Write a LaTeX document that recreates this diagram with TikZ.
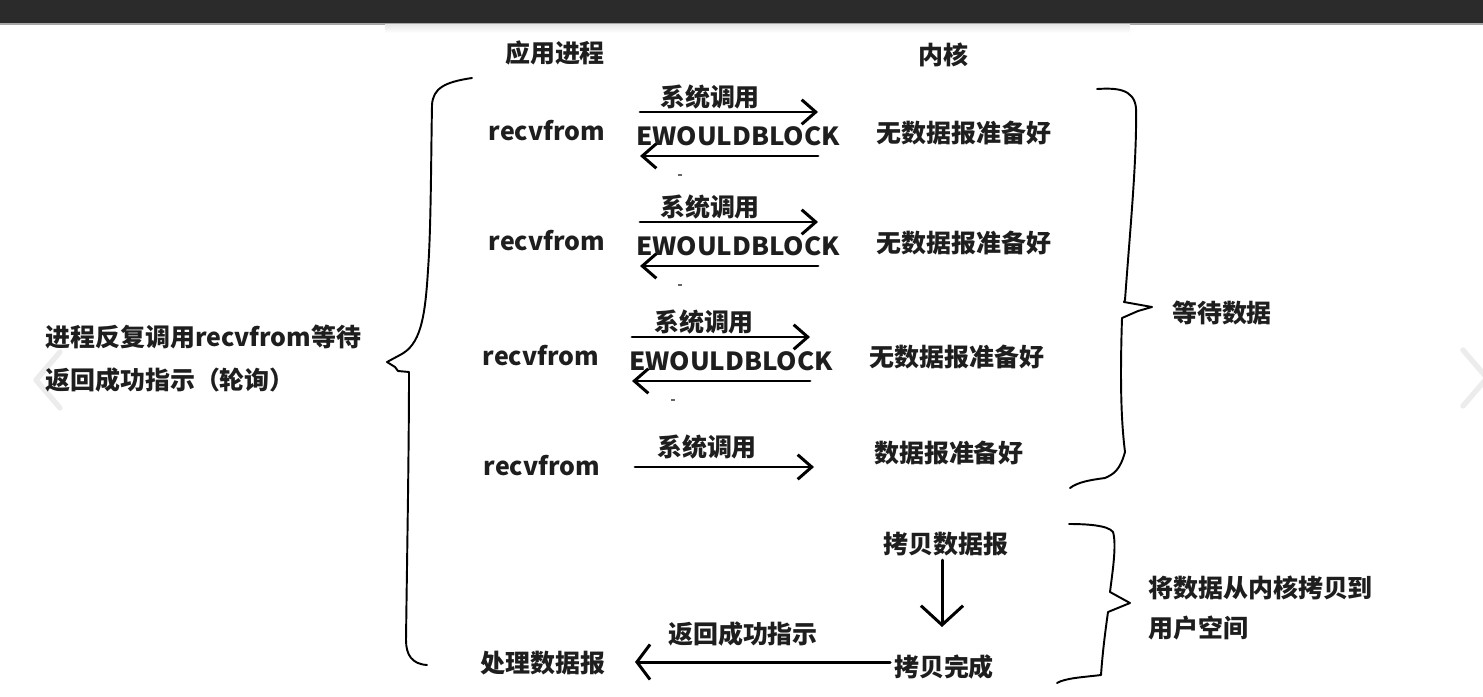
\documentclass[tikz,border=0pt]{standalone}
\usepackage{fontspec}
\setmainfont{Noto Sans CJK SC}
\usetikzlibrary{arrows.meta}
\definecolor{ink}{HTML}{1E1E1E}
\definecolor{topbar}{HTML}{2B2B2B}
\newcommand{\ewb}{\scalebox{1.04}[1]{EWOULDBLOCK}}
\tikzset{
  lbl/.style={font=\fontsize{14.2pt}{17pt}\selectfont\bfseries, text=ink, inner sep=0pt},
  arr/.style={line width=1.7pt, line cap=round, draw=black,
    -{Straight Barb[length=8pt,width=14pt]}},
  arrdown/.style={line width=1.7pt, line cap=round, draw=black,
    -{Straight Barb[length=11pt,width=24pt]}},
  arrback/.style={line width=1.7pt, line cap=round, draw=black,
    -{Straight Barb[length=7.5pt,width=20pt]}},
  brace/.style={line width=1.1pt, line join=round, line cap=round, draw=black},
  tick/.style={line width=1pt, draw=gray!80!black},
  chev/.style={line width=3pt, draw=gray!15, line cap=round, line join=round},
}
\begin{document}
\begin{tikzpicture}[x=0.02cm, y=-0.02cm]
\useasboundingbox (0,0) rectangle (1483,696);
\fill[white] (0,0) rectangle (1483,696);
% browser chrome
\fill[topbar] (0,0) rectangle (1483,24);
\fill[gray!70] (0,23.5) rectangle (1483,25);
\shade[top color=gray!18, bottom color=white] (385,25) rectangle (1130,33);
% carousel chevrons
\draw[chev] (60,352) -- (36,380) -- (60,408);
\draw[chev] (1463,350) -- (1487,378) -- (1463,406);

% headers
\node[lbl] (app) at (555,53) {应用进程};
\node[lbl] (ker) at (943,55) {内核};

% row 1
\node[lbl] (r1) at (547,131) {recvfrom};
\node[lbl] (s1) at (710,97) {系统调用};
\node[lbl] (e1) at (738,136) {\ewb};
\node[lbl] (k1) at (964,133) {无数据报准备好};
\coordinate (a1a) at (640,112); \coordinate (a1b) at (818,112);
\coordinate (b1a) at (818,156); \coordinate (b1b) at (640,156);
\draw[arr] (a1a) -- (a1b);
\draw[arr] (b1a) -- (b1b);
\coordinate (t1a) at (678,175); \coordinate (t1b) at (682,175);
\draw[tick] (t1a) -- (t1b);

% row 2
\node[lbl] (r2) at (547,241) {recvfrom};
\node[lbl] (s2) at (710,207) {系统调用};
\node[lbl] (e2) at (738,246) {\ewb};
\node[lbl] (k2) at (964,243) {无数据报准备好};
\coordinate (a2a) at (640,222); \coordinate (a2b) at (818,222);
\coordinate (b2a) at (818,266); \coordinate (b2b) at (640,266);
\draw[arr] (a2a) -- (a2b);
\draw[arr] (b2a) -- (b2b);
\coordinate (t2a) at (678,285); \coordinate (t2b) at (682,285);
\draw[tick] (t2a) -- (t2b);

% row 3
\node[lbl] (r3) at (541,356) {recvfrom};
\node[lbl] (s3) at (704,322) {系统调用};
\node[lbl] (e3) at (731,361) {\ewb};
\node[lbl] (k3) at (957,357) {无数据报准备好};
\coordinate (a3a) at (632,337); \coordinate (a3b) at (810,337);
\coordinate (b3a) at (810,381); \coordinate (b3b) at (632,381);
\draw[arr] (a3a) -- (a3b);
\draw[arr] (b3a) -- (b3b);
\coordinate (t3a) at (671,400); \coordinate (t3b) at (675,400);
\draw[tick] (t3a) -- (t3b);

% row 4
\node[lbl] (r4) at (542,466) {recvfrom};
\node[lbl] (s4) at (707,447) {系统调用};
\node[lbl] (k4) at (949,453) {数据报准备好};
\coordinate (a4a) at (635,467); \coordinate (a4b) at (814,467);
\draw[arr] (a4a) -- (a4b);

% copy phase
\node[lbl] (cp) at (946,544) {拷贝数据报};
\node[lbl] (cd) at (944,667) {拷贝完成};
\node[lbl] (ok) at (743,634) {返回成功指示};
\node[lbl] (pd) at (543,663) {处理数据报};
\coordinate (dA) at (942,560); \coordinate (dB) at (942,627);
\draw[arrdown] (dA) -- (dB);
\coordinate (rA) at (890,662); \coordinate (rB) at (635,662);
\draw[arrback] (rA) -- (rB);

% left label
\node[lbl, anchor=west] (l1) at (45,337) {进程反复调用recvfrom等待};
\node[lbl, anchor=west] (l2) at (45,380) {返回成功指示（轮询）};

% right labels
\node[lbl] (wd) at (1222,313) {等待数据};
\node[lbl, anchor=west] (c1) at (1148,588) {将数据从内核拷贝到};
\node[lbl, anchor=west] (c2) at (1148,628) {用户空间};

% left brace
\draw[brace] (472,78) .. controls (445,82) and (433,88) .. (432,105)
  .. controls (431,160) and (431,230) .. (428,270)
  .. controls (425,320) and (420,345) .. (400,355)
  -- (387,362) -- (395,367) -- (398,371) -- (409,372)
  .. controls (409,450) and (407,560) .. (406,640)
  .. controls (406,655) and (412,664) .. (427,665);

% right brace 1
\draw[brace] (1097,89) .. controls (1115,88) and (1134,88) .. (1136,108)
  .. controls (1137,160) and (1130,230) .. (1125,300)
  -- (1124,302) -- (1152,307) -- (1138,311) -- (1122,318)
  .. controls (1120,380) and (1121,420) .. (1125,452)
  .. controls (1120,470) and (1114,474) .. (1105,478)
  .. controls (1090,480) and (1078,482) .. (1070,488);

% right brace 2
\draw[brace] (1069,524) .. controls (1085,524) and (1108,525) .. (1113,532)
  .. controls (1117,545) and (1112,575) .. (1110,592)
  -- (1130,603) -- (1108,612)
  .. controls (1104,640) and (1102,660) .. (1101,675)
  .. controls (1085,677) and (1065,678) .. (1057,683);
\end{tikzpicture}
\end{document}
